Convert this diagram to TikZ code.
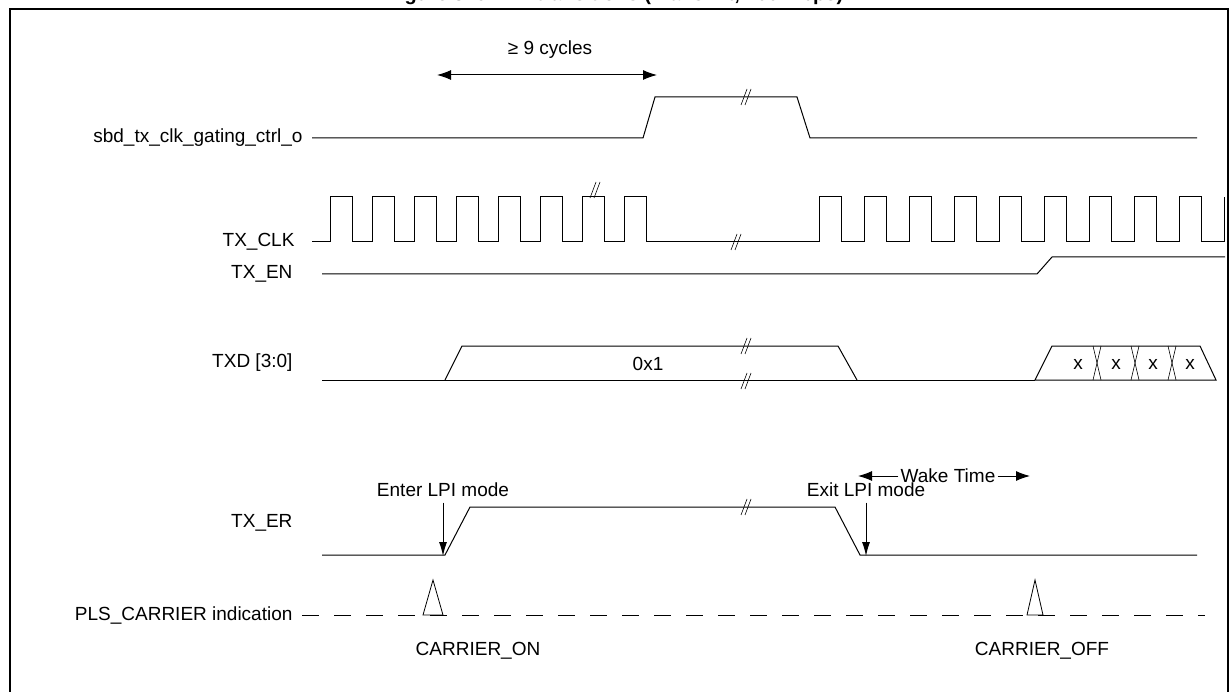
\documentclass[tikz,border=0pt]{standalone}
\usepackage{fontspec}
\setmainfont{Liberation Sans}
\usepackage{tikz}
\usetikzlibrary{arrows.meta}
\tikzset{
  sig/.style={line width=1pt},
  lbl/.style={anchor=east,font=\fontsize{19}{22}\selectfont},
  txt/.style={font=\fontsize{19}{22}\selectfont},
  big/.style={line width=1pt,{Latex[length=14pt,width=10pt]}-{Latex[length=14pt,width=10pt]}},
  brk/.style={line width=0.6pt},
}
\newcommand{\brkmark}[2]{%
  \draw[brk] (#1-4,#2+8) -- (#1+2,#2-8);
  \draw[brk] (#1,#2+8) -- (#1+6,#2-8);}
\begin{document}
\begin{tikzpicture}[x=1pt,y=-1pt]
\useasboundingbox (0,0) rectangle (1230,692);
\fill[white] (0,0) rectangle (1230,692);
\node[font=\bfseries\fontsize{20}{24}\selectfont] (title) at (615,-5) {Figure 325. LPI transitions (Transmit, 100 Mbps)};
\draw[line width=1.2pt] (10,700) -- (10,9) -- (1228,9) -- (1228,700);

% labels
\node[lbl] (l1) at (306,138) {sbd\_tx\_clk\_gating\_ctrl\_o};
\node[lbl] (l2) at (298,242) {TX\_CLK};
\node[lbl] (l3) at (296,274) {TX\_EN};
\node[lbl] (l4) at (296,363) {TXD [3:0]};
\node[lbl] (l5) at (296,523) {TX\_ER};
\node[lbl] (l6) at (296,615) {PLS\_CARRIER indication};

% >= 9 cycles
\coordinate (c1) at (437,75);
\coordinate (c2) at (657,75);
\draw[big] (c1) -- (c2);
\node[txt] (cyc) at (550,50) {≥ 9 cycles};

% sbd_tx_clk_gating_ctrl_o
\draw[sig] (312,138) -- (643,138) -- (655,97) -- (797,97) -- (810,138) -- (1197,138);
\brkmark{745}{97}

% TX_CLK
\draw[sig] (312,242) -- (330,242)
  \foreach \i in {0,...,7} { -- (330+\i*42,242) -- (330+\i*42,197) -- (352+\i*42,197) -- (352+\i*42,242) }
  -- (819,242)
  \foreach \i in {0,...,8} { -- (819+\i*45,242) -- (819+\i*45,197) -- (841+\i*45,197) -- (841+\i*45,242) }
  -- (1224,242) -- (1224,197);
\brkmark{594}{190}
\brkmark{735}{242}

% TX_EN
\draw[sig] (322,274) -- (1037,274) -- (1052,257) -- (1225,257);

% TXD [3:0]
\draw[sig] (322,380) -- (1035,380);
\draw[sig] (445,380) -- (462,346) -- (838,346) -- (857,380);
\brkmark{745}{346}
\brkmark{745}{381}
\node[txt] (d1) at (648,364) {0x1};
\draw[sig] (1035,380) -- (1052,346) -- (1200,346) -- (1216,380) -- cycle;
\foreach \xc in {1097,1135,1172} {
  \draw[line width=0.6pt] (\xc-4,346) -- (\xc+4,380);
  \draw[line width=0.6pt] (\xc+4,346) -- (\xc-4,380);
}
\foreach \xc/\n in {1078/x1,1116/x2,1153/x3,1190/x4}
  \node[txt] (\n) at (\xc,364) {x};

% Wake Time
\node[txt,inner sep=2pt] (wake) at (948,476) {Wake Time};
\coordinate (w1) at (858,476);
\coordinate (w2) at (1030,476);
\draw[line width=1pt,-{Latex[length=14pt,width=10pt]}] (wake.west) -- (w1);
\draw[line width=1pt,-{Latex[length=14pt,width=10pt]}] (wake.east) -- (w2);

% TX_ER
\draw[sig] (322,555) -- (445,555) -- (470,507) -- (835,507) -- (860,555) -- (1197,555);
\brkmark{745}{507}
\node[txt] (enter) at (443,490) {Enter LPI mode};
\node[txt] (exit) at (866,490) {Exit LPI mode};
\coordinate (e1) at (443,556);
\coordinate (e2) at (866,556);
\draw[line width=1pt,-{Latex[length=14pt,width=8pt]}] (enter.south) ++(0,2) -- (e1);
\draw[line width=1pt,-{Latex[length=14pt,width=8pt]}] (exit.south) ++(0,2) -- (e2);

% PLS_CARRIER indication
\draw[sig,dash pattern=on 17pt off 15pt] (302,615) -- (1205,615);
\draw[line width=0.8pt] (423,615) -- (433,580) -- (443,615) -- cycle;
\draw[line width=0.8pt] (1027,615) -- (1035,580) -- (1043,615) -- cycle;
\node[txt] (con) at (478,651) {CARRIER\_ON};
\node[txt] (coff) at (1042,651) {CARRIER\_OFF};
\end{tikzpicture}
\end{document}
